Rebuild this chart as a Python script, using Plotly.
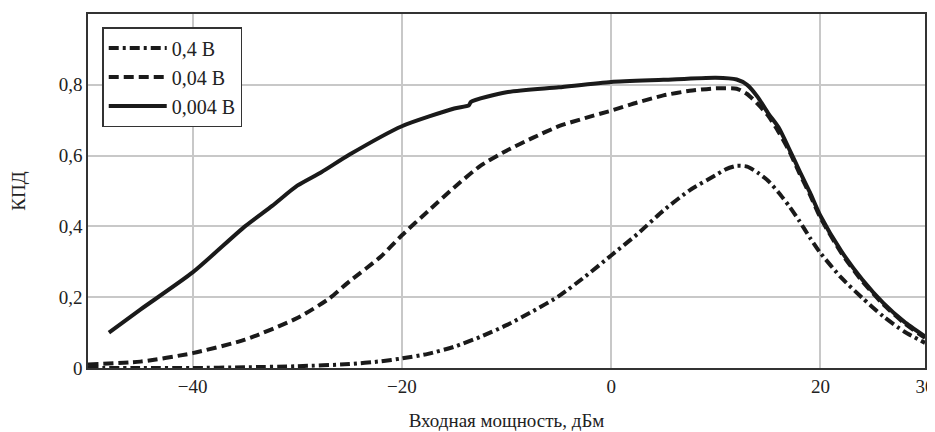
import plotly.graph_objects as go

# Input power, dBm
x_04 = [-50, -45, -40, -35, -30, -25, -22, -20, -17.5, -15, -12.5, -10, -7.5, -5, -2.5, 0, 2.5, 5, 7.5, 10, 11, 12, 13, 14, 15, 16, 17, 18, 19, 20, 22, 24, 26, 28, 30]
y_04 = [0.0, 0.0, 0.0, 0.002, 0.005, 0.011, 0.019, 0.027, 0.04, 0.06, 0.088, 0.121, 0.16, 0.203, 0.258, 0.318, 0.378, 0.445, 0.502, 0.545, 0.562, 0.571, 0.569, 0.552, 0.529, 0.496, 0.458, 0.415, 0.368, 0.325, 0.255, 0.198, 0.146, 0.103, 0.071]

x_004 = [-50, -45, -40, -35, -30, -27, -25, -22, -20, -17.5, -15, -12.5, -10, -7.5, -5, -2.5, 0, 2.5, 5, 7.5, 10, 12, 13, 14, 15, 16, 17, 18, 19, 20, 22, 24, 26, 28, 30]
y_004 = [0.01, 0.018, 0.042, 0.08, 0.141, 0.195, 0.245, 0.315, 0.375, 0.443, 0.51, 0.571, 0.614, 0.65, 0.683, 0.706, 0.727, 0.75, 0.77, 0.783, 0.79, 0.789, 0.774, 0.746, 0.713, 0.667, 0.614, 0.55, 0.49, 0.425, 0.325, 0.245, 0.18, 0.127, 0.085]

x_0004 = [-48, -45, -40, -35, -32.4, -30, -27.7, -25, -20, -15, -13.6, -13.4, -10, -5, 0, 5, 10, 12, 13, 14, 15, 16, 17, 18, 19, 20, 22, 24, 26, 28, 30]
y_0004 = [0.1, 0.165, 0.27, 0.4, 0.458, 0.515, 0.553, 0.603, 0.683, 0.733, 0.742, 0.752, 0.779, 0.793, 0.808, 0.814, 0.82, 0.815, 0.8, 0.766, 0.72, 0.68, 0.62, 0.557, 0.496, 0.43, 0.33, 0.25, 0.184, 0.131, 0.089]

names = ["0,4 В", "0,04 В", "0,004 В"]
x_ticks = [-40, -20, 0, 20, 30]
y_ticks = [0, 0.2, 0.4, 0.6, 0.8]

FONT = "Liberation Serif, Times New Roman, serif"
INK = "#1a1a1a"
TXT = "#222222"

fig = go.Figure()
fig.add_trace(go.Scatter(x=x_04, y=y_04, name=names[0], mode="lines",
                         line=dict(color=INK, width=4, dash="10px,4px,3px,4px", shape="spline", smoothing=0.6)))
fig.add_trace(go.Scatter(x=x_004, y=y_004, name=names[1], mode="lines",
                         line=dict(color=INK, width=4, dash="10px,5px", shape="spline", smoothing=0.6)))
fig.add_trace(go.Scatter(x=x_0004, y=y_0004, name=names[2], mode="lines",
                         line=dict(color=INK, width=4, shape="spline", smoothing=0.6)))

# The page body adds an 8px offset; the figure is sized so the plot lands where the reference has it.
fig.update_layout(
    width=927, height=424,
    margin=dict(l=80, r=10, t=6, b=64),
    paper_bgcolor="white", plot_bgcolor="white",
    separators=", ",
    font=dict(family=FONT, size=19, color=TXT),
    showlegend=True,
    legend=dict(x=0.017, y=0.963, xanchor="left", yanchor="top",
                bordercolor="#333", borderwidth=1.5, bgcolor="white",
                font=dict(family=FONT, size=20, color=TXT),
                tracegroupgap=0, itemwidth=58),
)
fig.update_xaxes(
    range=[-50, 30], tickvals=x_ticks, ticks="", automargin=False,
    showgrid=True, gridcolor="#c8c8c8", gridwidth=1.5,
    showline=True, linecolor="#333", linewidth=1.5, mirror=True,
    zeroline=False, tickfont=dict(family=FONT, size=19, color=TXT),
    title=dict(text="Входная мощность, дБм", standoff=18, font=dict(family=FONT, size=19, color=TXT)),
)
fig.update_yaxes(
    range=[0, 1.0], tickvals=y_ticks, ticks="", automargin=False,
    showgrid=True, gridcolor="#c8c8c8", gridwidth=1.5,
    showline=True, linecolor="#333", linewidth=1.5, mirror=True,
    zeroline=False, tickfont=dict(family=FONT, size=19, color=TXT),
    title=dict(text="КПД", standoff=28, font=dict(family=FONT, size=19, color=TXT)),
)

fig.write_html("out.html")
